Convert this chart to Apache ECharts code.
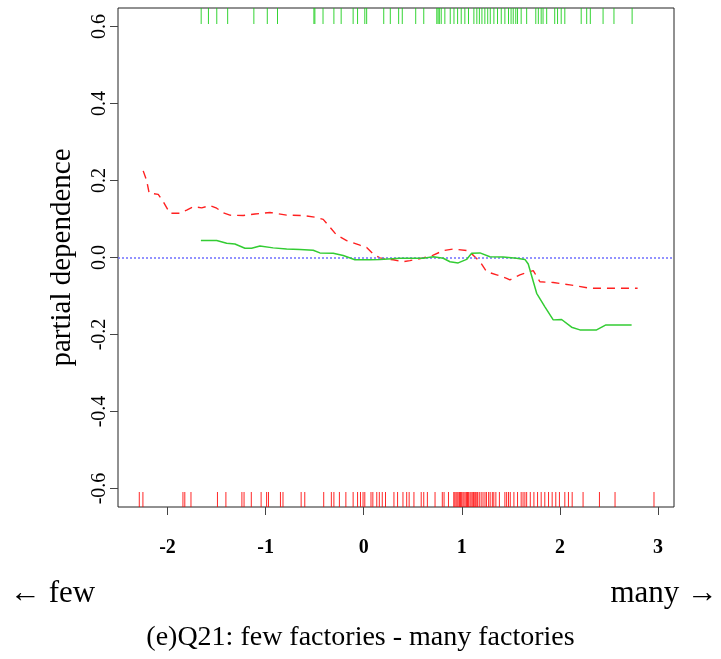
<!DOCTYPE html>
<html>
<head>
<meta charset="utf-8">
<script src="https://cdn.jsdelivr.net/npm/echarts@6/dist/echarts.min.js"></script>
<style>
html,body{margin:0;padding:0;background:#fff;}
#chart{width:721px;height:659px;}
</style>
</head>
<body>
<div id="chart"></div>
<script>
// ---- data ----
const xTicks = [-2, -1, 0, 1, 2, 3];
const yTicks = [-0.6, -0.4, -0.2, 0.0, 0.2, 0.4, 0.6];
const yTickLabels = ['-0.6', '-0.4', '-0.2', '0.0', '0.2', '0.4', '0.6'];

const redX = [-2.248,-2.214,-2.187,-2.095,-2.044,-1.976,-1.874,-1.805,-1.738,-1.652,-1.568,-1.499,-1.432,-1.364,-1.228,-1.109,-0.956,-0.786,-0.617,-0.480,-0.413,-0.362,-0.276,-0.174,-0.039,0.030,0.097,0.165,0.301,0.403,0.471,0.590,0.709,0.811,0.913,1.049,1.116,1.185,1.253,1.355,1.457,1.490,1.592,1.728,1.796,1.932,2.102,2.306,2.543,2.792];
const redY = [0.225,0.201,0.167,0.164,0.145,0.115,0.115,0.123,0.132,0.129,0.135,0.128,0.116,0.110,0.109,0.113,0.117,0.110,0.109,0.104,0.099,0.084,0.058,0.044,0.032,0.026,0.009,-0.001,-0.006,-0.011,-0.008,-0.002,0.006,0.018,0.022,0.018,0.006,-0.011,-0.037,-0.045,-0.054,-0.058,-0.045,-0.034,-0.063,-0.065,-0.071,-0.080,-0.080,-0.080];

const greenX = [-1.660,-1.499,-1.397,-1.313,-1.211,-1.143,-1.058,-0.923,-0.786,-0.650,-0.515,-0.447,-0.311,-0.209,-0.090,0.063,0.165,0.369,0.505,0.607,0.709,0.811,0.879,0.963,1.049,1.100,1.185,1.286,1.422,1.558,1.643,1.677,1.763,1.847,1.932,2.017,2.119,2.204,2.374,2.469,2.731];
const greenY = [0.044,0.044,0.037,0.035,0.024,0.024,0.030,0.025,0.022,0.021,0.019,0.012,0.011,0.005,-0.006,-0.006,-0.005,-0.002,-0.002,-0.002,0.002,-0.002,-0.011,-0.014,-0.005,0.011,0.012,0.002,0.001,-0.002,-0.005,-0.017,-0.093,-0.128,-0.162,-0.161,-0.181,-0.188,-0.188,-0.175,-0.175];

const greenRug = [-1.657,-1.583,-1.498,-1.387,-1.120,-0.983,-0.879,-0.508,-0.498,-0.415,-0.304,-0.230,-0.108,-0.063,0.011,0.030,0.204,0.271,0.356,0.393,0.530,0.612,0.745,0.758,0.771,0.790,0.827,0.882,0.920,0.957,0.994,1.031,1.068,1.123,1.153,1.179,1.205,1.235,1.264,1.290,1.327,1.364,1.402,1.439,1.476,1.502,1.524,1.550,1.568,1.605,1.661,1.754,1.780,1.809,1.828,1.865,1.947,1.976,2.013,2.050,2.217,2.273,2.310,2.440,2.551,2.736];

const redRug = [-2.288,-2.251,-1.843,-1.824,-1.761,-1.491,-1.405,-1.242,-1.220,-1.146,-1.046,-0.990,-0.971,-0.849,-0.823,-0.638,-0.601,-0.408,-0.330,-0.304,-0.248,-0.182,-0.108,-0.063,-0.033,-0.007,0.011,0.074,0.093,0.133,0.159,0.189,0.222,0.308,0.345,0.400,0.438,0.463,0.512,0.586,0.612,0.649,0.727,0.801,0.819,0.864,0.918,0.929,0.941,0.952,0.963,0.977,0.986,0.998,1.011,1.022,1.034,1.047,1.058,1.069,1.083,1.094,1.106,1.118,1.127,1.141,1.153,1.162,1.178,1.197,1.216,1.236,1.251,1.273,1.289,1.311,1.326,1.347,1.383,1.439,1.457,1.476,1.494,1.531,1.568,1.605,1.624,1.643,1.661,1.698,1.735,1.772,1.809,1.846,1.884,1.921,1.958,1.995,2.050,2.087,2.125,2.236,2.403,2.562,2.959];

// ---- chart ----
const chart = echarts.init(document.getElementById('chart'), null, {renderer: 'canvas'});
const serif = '"Liberation Serif", "DejaVu Serif", serif';

function pairs(xs, ys) { return xs.map((x, i) => [x, ys[i]]); }

function rugSeries(values, color, side) {
  return {
    type: 'custom',
    silent: true,
    coordinateSystem: 'cartesian2d',
    data: values.map(v => [v]),
    encode: {x: 0},
    clip: true,
    renderItem: function (params, api) {
      const cs = params.coordSys;
      const px = api.coord([api.value(0), 0])[0];
      const len = 15;
      let y1, y2;
      if (side === 'bottom') { y1 = cs.y + cs.height; y2 = y1 - len; }
      else { y1 = cs.y; y2 = y1 + len + 1; }
      return {
        type: 'line',
        shape: {x1: px, y1: y1, x2: px, y2: y2},
        style: {stroke: color, lineWidth: 1, opacity: 0.85}
      };
    },
    z: 3
  };
}

const option = {
  animation: false,
  backgroundColor: '#ffffff',
  grid: {
    left: 118, top: 8, width: 556, height: 499,
    show: true, borderColor: '#222', borderWidth: 1, backgroundColor: 'transparent'
  },
  xAxis: {
    type: 'value', min: -2.505, max: 3.163,
    axisLine: {show: false, onZero: false},
    splitLine: {show: false},
    axisTick: {show: true, inside: false, length: 8, lineStyle: {color: '#444', width: 1}, customValues: xTicks},
    axisLabel: {
      customValues: xTicks, margin: 31,
      fontFamily: serif, fontSize: 20, fontWeight: 'bold', color: '#000',
      formatter: v => String(v)
    }
  },
  yAxis: {
    type: 'value', min: -0.648, max: 0.648,
    name: 'partial dependence', nameLocation: 'middle', nameGap: 41, nameRotate: 90,
    nameTextStyle: {fontFamily: serif, fontSize: 29, color: '#000'},
    axisLine: {show: false, onZero: false},
    splitLine: {show: false},
    axisTick: {show: true, inside: false, length: 8, lineStyle: {color: '#444', width: 1}, customValues: yTicks},
    axisLabel: {
      customValues: yTicks, margin: 8, rotate: 90,
      fontFamily: serif, fontSize: 20, color: '#000',
      formatter: v => yTickLabels[yTicks.findIndex(t => Math.abs(t - v) < 1e-9)] ?? v.toFixed(1)
    }
  },
  series: [
    {
      type: 'line', data: pairs(redX, redY), symbol: 'none', silent: true,
      lineStyle: {color: '#ff2020', width: 1.4, type: [8, 6]},
      z: 4,
      markLine: {
        silent: true, symbol: 'none', label: {show: false},
        lineStyle: {color: '#6f6fff', type: [2, 2], width: 1.5},
        data: [{yAxis: 0}]
      }
    },
    {
      type: 'line', data: pairs(greenX, greenY), symbol: 'none', silent: true,
      lineStyle: {color: '#33cc33', width: 1.5},
      z: 5
    },
    rugSeries(greenRug, '#11cc11', 'top'),
    rugSeries(redRug, '#ff0000', 'bottom')
  ],
  graphic: [
    {type: 'text', left: 10, top: 578, style: {text: '\u2190 few', font: '31px ' + serif, fill: '#000'}},
    {type: 'text', right: 3, top: 578, style: {text: 'many \u2192', font: '31px ' + serif, fill: '#000'}},
    {type: 'text', left: 'center', top: 624, style: {text: '(e)Q21: few factories - many factories', font: '28px ' + serif, fill: '#000'}}
  ]
};
chart.setOption(option);
</script>
</body>
</html>
